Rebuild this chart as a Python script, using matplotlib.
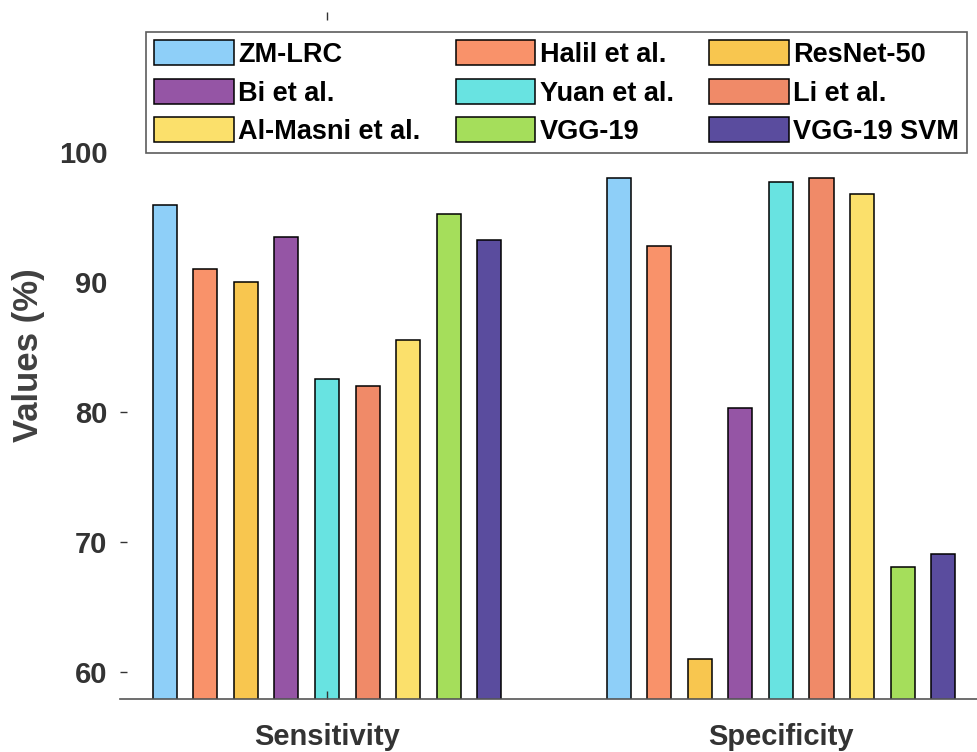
import matplotlib.pyplot as plt
import numpy as np

plt.rcParams['font.family'] = ['Liberation Sans', 'DejaVu Sans']
plt.rcParams['font.weight'] = 'bold'

groups = ['Sensitivity', 'Specificity']
methods = ['ZM-LRC', 'Halil et al.', 'ResNet-50', 'Bi et al.', 'Yuan et al.',
           'Li et al.', 'Al-Masni et al.', 'VGG-19', 'VGG-19 SVM']
sensitivity = [95.9, 91.0, 90.0, 93.5, 82.5, 82.0, 85.5, 95.2, 93.2]
specificity = [98.0, 92.8, 61.0, 80.3, 97.7, 98.0, 96.8, 68.1, 69.1]
colors = ['#8ECFF8', '#F9926A', '#F8C64F', '#9555A5', '#68E3E1',
          '#F08A68', '#FBE06B', '#A5DE5B', '#5A4C9E']

fig = plt.figure(figsize=(9.77, 7.52), dpi=100)
ax = fig.add_axes([0.1228, 0.0705, 0.8772, 0.9135])

x = np.arange(1, len(groups) + 1)
step = 0.0894
width = 0.053
handles = []
for i, m in enumerate(methods):
    off = (i - 4) * step
    b = ax.bar(x + off, [sensitivity[i], specificity[i]], width, bottom=0,
               color=colors[i], edgecolor='black', linewidth=1.1, label=m)
    handles.append(b)

ax.set_ylim(57.92, 110.77)
ax.set_xlim(0.544, 2.432)
ax.set_yticks([60, 70, 80, 90, 100])
ax.set_xticks(x)
ax.set_xticklabels(groups)
ax.tick_params(axis='y', direction='in', length=5, width=1, color='#333333',
               labelsize=21, labelcolor='#333333', pad=9)
ax.tick_params(axis='x', direction='in', length=6, width=1, color='#333333',
               labelsize=21, labelcolor='#333333', pad=17, top=True)
# tick marks hidden in the original
for t in ax.yaxis.get_major_ticks()[3:]:
    t.tick1line.set_visible(False)
spec_tick = ax.xaxis.get_major_ticks()[1]
spec_tick.tick1line.set_visible(False)
spec_tick.tick2line.set_visible(False)
ax.spines['left'].set_visible(False)
ax.spines['right'].set_visible(False)
ax.spines['top'].set_visible(False)
ax.spines['bottom'].set_color('#555555')
ax.spines['bottom'].set_linewidth(1.2)
ax.set_ylabel('Values (%)', fontsize=25, color='#404040', fontweight='bold', labelpad=10)

# legend is filled row-wise in the original
order = [0, 3, 6, 1, 4, 7, 2, 5, 8]
leg = ax.legend([handles[i] for i in order], [methods[i] for i in order],
                ncol=3, loc='upper left', bbox_to_anchor=(0.0303, 0.971, 0.958, 0.0),
                mode='expand', fontsize=19.5, frameon=True, fancybox=False,
                handlelength=2.95, handleheight=1.05, handletextpad=0.15,
                columnspacing=0.6, labelspacing=0.4, borderpad=0.3,
                borderaxespad=0)
leg.get_frame().set_edgecolor('#333333')
leg.get_frame().set_linewidth(1.2)

fig.savefig('out.png', dpi=100)
